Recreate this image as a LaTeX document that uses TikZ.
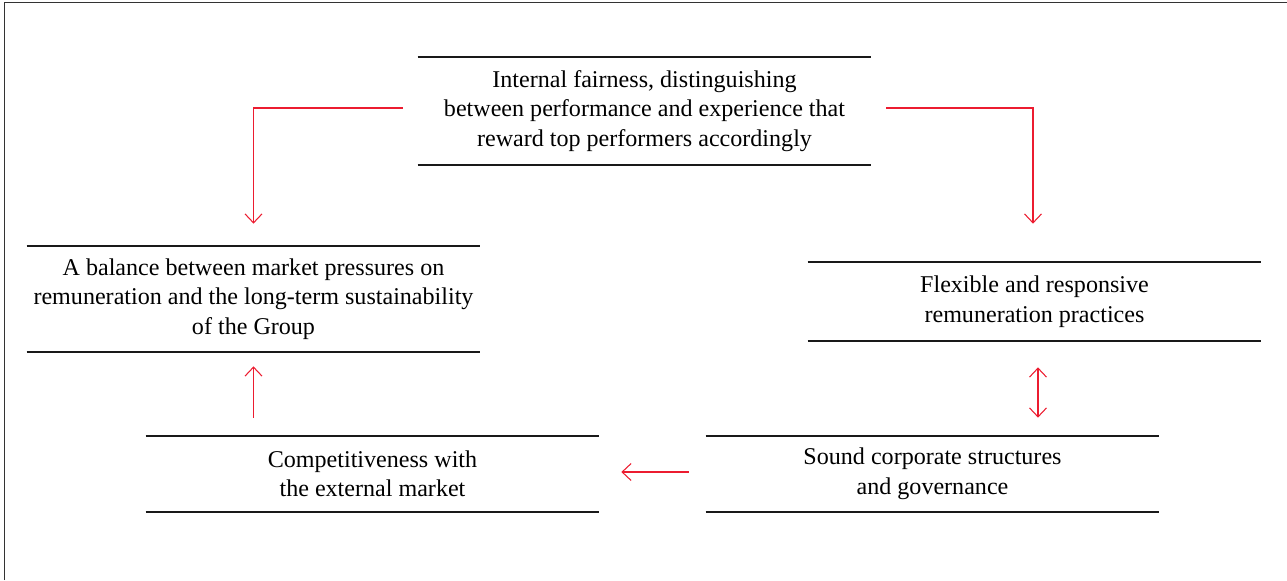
\documentclass[tikz,border=0pt]{standalone}
\usepackage{fontspec}
\setmainfont{Liberation Serif}
\definecolor{linkred}{RGB}{236, 28, 48}
\usepackage{tikz}
\usetikzlibrary{arrows.meta, calc}

\begin{document}
\begin{tikzpicture}[
  rbox/.style={align=center, inner sep=0pt, minimum width=9.06cm, font=\fontsize{13.7}{16.8}\selectfont},
  rule/.style={line width=1.1pt, black!90},
  link/.style={draw=linkred, line width=0.6pt, -{Straight Barb[length=0.18cm, width=0.34cm]}}
]
  \useasboundingbox (0, 0) rectangle (25.74, 11.6);
  \draw[line width=0.8pt, black!80] (0.09, 0) -- (0.09, 11.55) -- (25.74, 11.55);

  \node[rbox, minimum height=2.16cm] (fair) at (12.89, 9.38) {
    Internal fairness, distinguishing\\
    between performance and experience that\\
    reward top performers accordingly
  };
  \node[rbox, minimum height=2.12cm] (balance) at (5.07, 5.62) {
    A balance between market pressures on\\
    remuneration and the long-term sustainability\\
    of the Group
  };
  \node[rbox, minimum height=1.58cm] (flexible) at (20.69, 5.57) {
    Flexible and responsive\\
    remuneration practices
  };
  \node[rbox, minimum height=1.52cm] (compete) at (7.45, 2.12) {
    Competitiveness with\\
    the external market
  };
  \node[rbox, minimum height=1.52cm] (sound) at (18.65, 2.12) {
    Sound corporate structures\\
    and governance
  };

  \foreach \n in {fair, balance, flexible, compete, sound}
    \draw[rule] (\n.north west) -- (\n.north east) (\n.south west) -- (\n.south east);

  \draw[link, shorten <=0.3cm, shorten >=0.44cm] ([yshift=0.06cm]fair.west) -| (balance.north);
  \draw[link, shorten <=0.3cm, shorten >=0.76cm] ([yshift=0.06cm]fair.east) -| ([xshift=-0.03cm]flexible.north);
  \draw[link, {Straight Barb[length=0.18cm, width=0.34cm]}-{Straight Barb[length=0.18cm, width=0.34cm]}, shorten <=0.52cm, shorten >=0.36cm]
    ([xshift=0.07cm]flexible.south) -- ([xshift=0.07cm]flexible.south |- sound.north);
  \draw[link, shorten <=0.34cm, shorten >=0.44cm] ([yshift=0.04cm]sound.west) -- ([yshift=0.04cm]compete.east);
  \draw[link, shorten <=0.36cm, shorten >=0.28cm] (balance.south |- compete.north) -- (balance.south);
\end{tikzpicture}
\end{document}
